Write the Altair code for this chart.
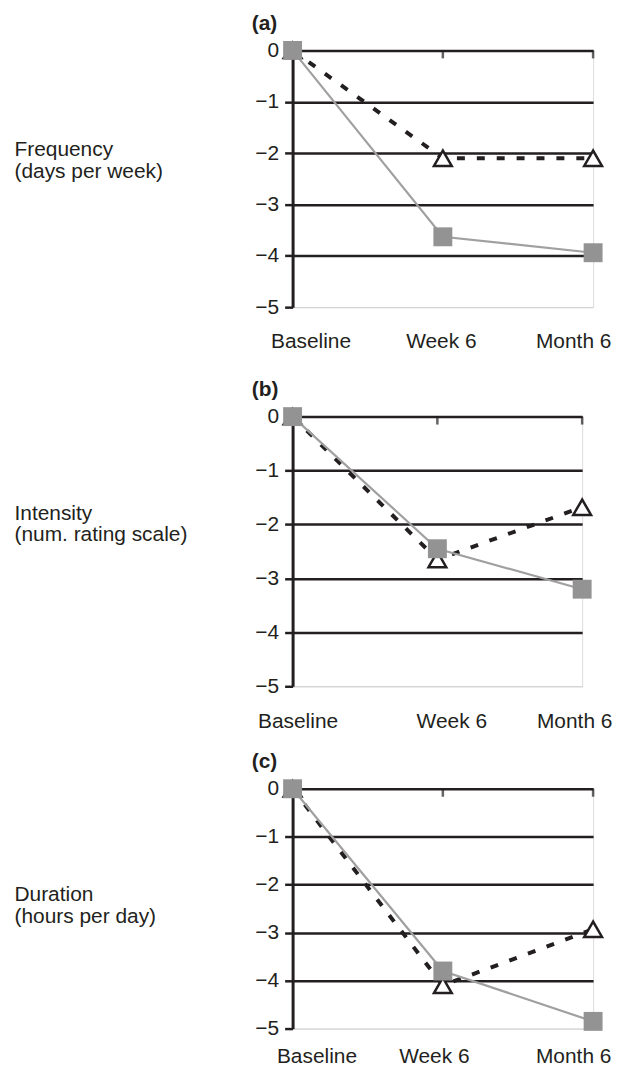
import altair as alt
import pandas as pd

times = ["Baseline", "Week 6", "Month 6"]

# panel (a) Frequency
a_tri = [0, -2.1, -2.1]
a_sq = [0, -3.63, -3.94]
# panel (b) Intensity
b_tri = [0, -2.65, -1.68]
b_sq = [0, -2.45, -3.2]
# panel (c) Duration
c_tri = [0, -4.1, -2.93]
c_sq = [0, -3.8, -4.85]

y_ticks = [0, -1, -2, -3, -4, -5]

INK = "#231f20"
GRAY = "#939393"
LGRAY = "#a0a0a0"
FONT = "Liberation Sans"


def panel(letter, title_lines, tri, sq, w, h, offs, title_y, lab_pad):
    df = pd.DataFrame({
        "time": times * 2,
        "value": tri + sq,
        "series": ["tri"] * 3 + ["sq"] * 3,
    })
    label_offset = {
        "condition": [
            {"test": "datum.value == 'Baseline'", "value": offs[0]},
            {"test": "datum.value == 'Week 6'", "value": offs[1]},
        ],
        "value": offs[2],
    }
    x = alt.X("time:N", sort=times,
              scale=alt.Scale(type="point", domain=times, padding=0),
              axis=alt.Axis(title=None, domain=False, ticks=False, grid=False,
                            labelFontSize=21, labelFont=FONT, labelColor=INK,
                            labelPadding=lab_pad, labelOffset=label_offset,
                            labelAngle=0))
    y = alt.Y("value:Q",
              scale=alt.Scale(domain=[-5, 0], nice=False, zero=False),
              axis=alt.Axis(values=y_ticks, format="d", grid=True,
                            gridColor={"condition": {"test": "datum.value == -5", "value": "#d0d0d0"}, "value": INK},
                            gridWidth={"condition": {"test": "datum.value == -5", "value": 1}, "value": 2.5},
                            domainColor=INK, domainWidth=3,
                            tickColor=INK, tickWidth=2.5, tickSize=8,
                            labelFontSize=21, labelFont=FONT, labelColor=INK,
                            labelPadding=6,
                            title=title_lines, titleAngle=0, titleAlign="left",
                            titleBaseline="top", titleX=-280, titleY=title_y,
                            titleFontSize=21, titleFont=FONT, titleFontWeight="normal",
                            titleColor=INK, titleLineHeight=22))
    base = alt.Chart(df).encode(x=x, y=y)
    dashed = base.transform_filter("datum.series == 'tri'").mark_line(
        color=INK, strokeWidth=4, strokeDash=[8, 12])
    tri_pts = base.transform_filter("datum.series == 'tri'").mark_point(
        shape="triangle-up", size=320, filled=True, fill="white", stroke=INK,
        strokeWidth=2.5, opacity=1)
    gline = base.transform_filter("datum.series == 'sq'").mark_line(
        color=LGRAY, strokeWidth=2.2)
    sq_pts = base.transform_filter("datum.series == 'sq'").mark_square(
        size=361, color=GRAY, opacity=1)
    ticks = alt.Chart(pd.DataFrame({"time": times[1:], "value": [0, 0]})).mark_tick(
        orient="vertical", size=8, thickness=2.5, color=INK, yOffset=4
    ).encode(x=x, y=y)
    return alt.layer(dashed, tri_pts, gline, sq_pts, ticks).properties(
        width=w, height=h,
        title=alt.TitleParams(letter, anchor="start", frame="group", dx=-41,
                              fontSize=21, font=FONT, fontWeight="bold",
                              color=INK, offset=4),
    )


pa = panel("(a)", ["Frequency", "\u00a0(days per week)"], a_tri, a_sq, 302, 258, [18, -2, -20], 89, 24)
pb = panel("(b)", ["Intensity", "(num. rating scale)"], b_tri, b_sq, 291, 271, [5, 14, -8], 86, 24)
pc = panel("(c)", ["Duration", "(hours per day)"], c_tri, c_sq, 302, 241, [24, -9, -20], 95, 17)

top = alt.vconcat(pa, pb, spacing=25)
chart = alt.vconcat(top, pc, spacing=18).properties(
    padding={"left": 5, "top": 1, "right": 0, "bottom": 0}
).configure_view(stroke=None).configure(background="white")

chart.save("out.html", embed_options={"renderer": "svg", "actions": False})
